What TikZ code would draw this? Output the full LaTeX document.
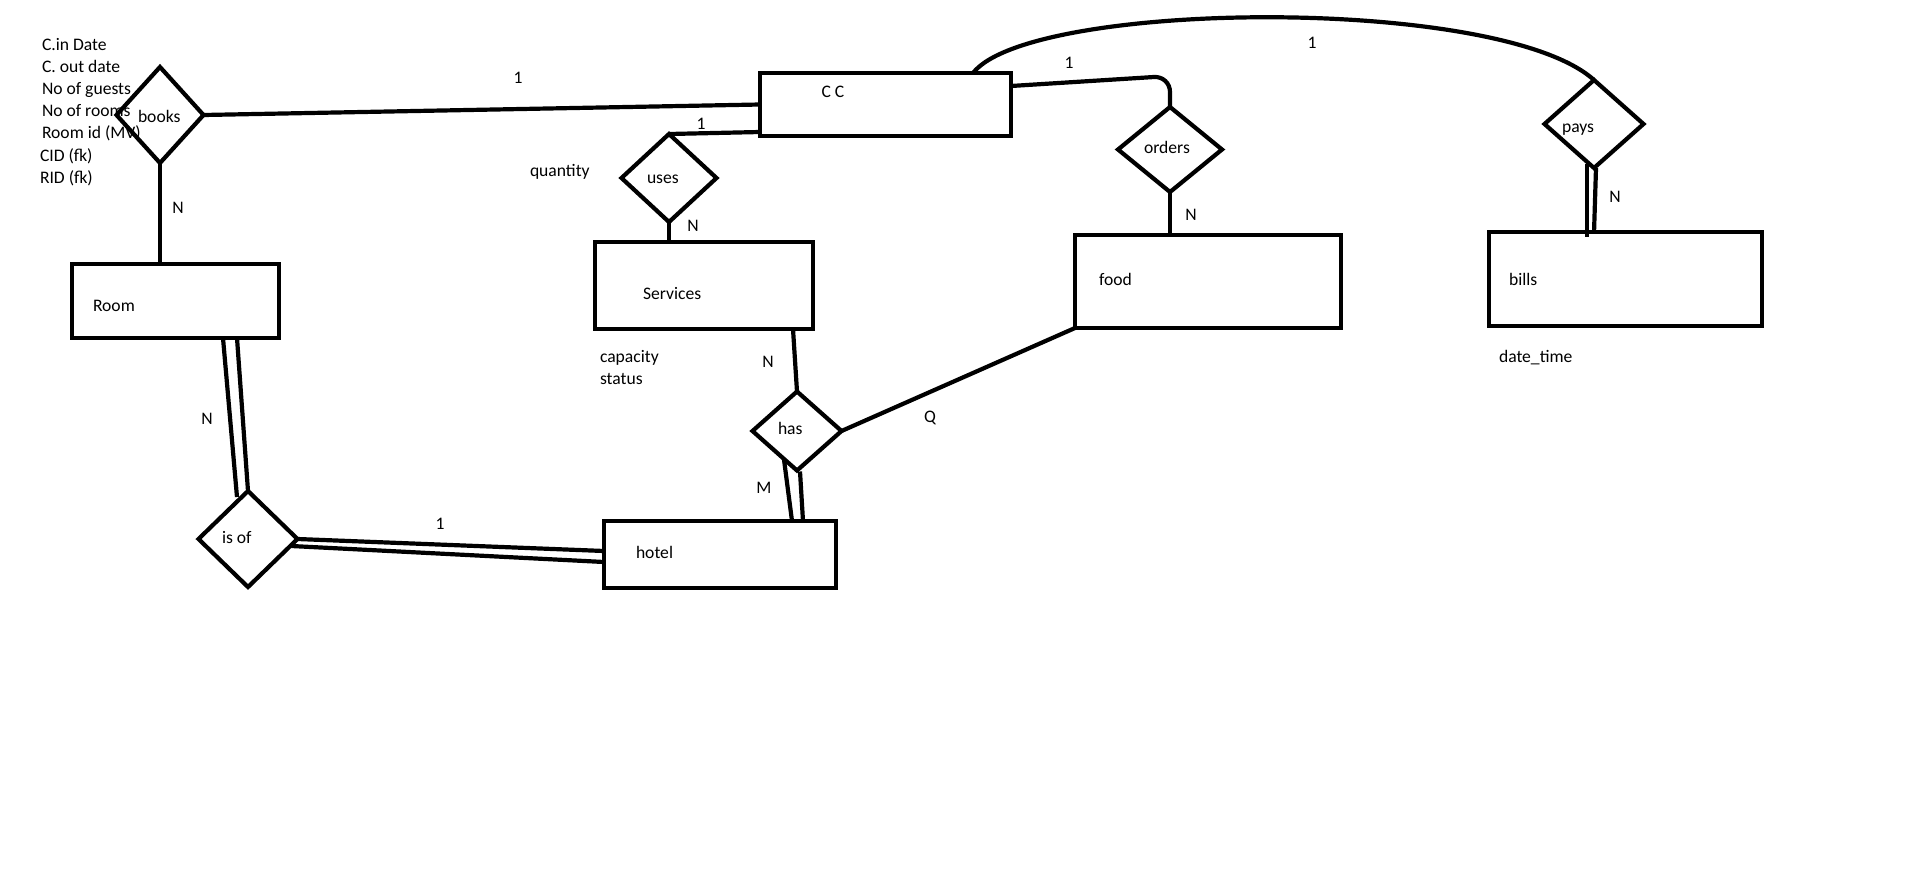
\documentclass[tikz,border=0pt]{standalone}
\usepackage{fontspec}
\setmainfont{Carlito}
\usetikzlibrary{shapes.geometric,calc}
\begin{document}
\begin{tikzpicture}[x=1pt,y=-1pt,
  every node/.style={font=\fontsize{17.6}{20}\selectfont, inner sep=0pt, outer sep=0pt},
  entity/.style={draw, rectangle, line width=4.2pt, line join=miter},
  rel/.style={draw, diamond, line width=4.2pt, line join=miter},
  link/.style={line width=4.2pt},
  lbl/.style={anchor=base west},
  card/.style={anchor=base},
]
\fill[white] (0,0) rectangle (1914,894);
\useasboundingbox (0,0) rectangle (1914,894);

% attributes of "books" (set under the diamond outline)
\node[lbl] (a1) at (42,50.5) {C.in Date};
\node[lbl] (a2) at (42,72.5) {C. out date};
\node[lbl] (a3) at (42,94.5) {No of guests};
\node[lbl] (a4) at (42,116.5) {No of rooms};
\node[lbl] (a5) at (42,138.5) {Room id (MV)};
\node[lbl] (a6) at (40,161) {CID (fk)};
\node[lbl] (a7) at (40,183) {RID (fk)};

% entities
\node[entity, minimum width=207pt, minimum height=74pt] (room) at (175.5,301) {};
\node[entity, minimum width=251pt, minimum height=63pt] (cc) at (885.5,104.5) {};
\node[entity, minimum width=218pt, minimum height=87pt] (services) at (704,285.5) {};
\node[entity, minimum width=266pt, minimum height=93pt] (food) at (1208,281.5) {};
\node[entity, minimum width=273pt, minimum height=94pt] (bills) at (1625.5,279) {};
\node[entity, minimum width=232pt, minimum height=67pt] (hotel) at (720,554.5) {};

% relationships
\node[rel, minimum width=87pt, minimum height=96pt] (books) at (160,115) {};
\node[rel, minimum width=95pt, minimum height=88pt] (uses) at (669,178) {};
\node[rel, minimum width=104pt, minimum height=85pt] (orders) at (1170,149.5) {};
\node[rel, minimum width=99pt, minimum height=88pt] (pays) at (1594,124) {};
\node[rel, minimum width=89pt, minimum height=79pt] (has) at (797,431) {};
\node[rel, minimum width=99pt, minimum height=96pt] (isof) at (248,539) {};

% names inside the shapes
\node[lbl] (tbooks) at (138,122) {books};
\node[lbl] (troom) at (93,311.5) {Room};
\node[card] (tcc) at (833,97.5) {C C};
\node[lbl] (tuses) at (647,183) {uses};
\node[lbl] (tservices) at (643,299.5) {Services};
\node[lbl] (thas) at (778,434.5) {has};
\node[lbl] (thotel) at (636,558.5) {hotel};
\node[lbl] (tfood) at (1099,285.5) {food};
\node[lbl] (torders) at (1144,153.5) {orders};
\node[lbl] (tpays) at (1562,132) {pays};
\node[lbl] (tbills) at (1509,285.5) {bills};
\node[lbl] (tisof) at (222,543) {is of};

% other attributes
\node[lbl] (qty) at (530,176) {quantity};
\node[lbl] (cap) at (600,362) {capacity};
\node[lbl] (sts) at (600,384.5) {status};
\node[lbl] (dt) at (1499,362) {date\_time};

% connectors
\draw[link] (books.east) -- (cc.west);
\draw[link] (books.south) -- (books.south |- room.north);
\draw[link] ($(cc.south west)+(0,-4)$) -- (uses.north);
\draw[link] (uses.south) -- (uses.south |- services.north);
\draw[link] ($(services.south east)+(-20,0)$) -- (has.north);
\draw[link] (has.east) -- (food.south west);
\draw[link] ($(has.south)+(-13,-11)$) -- ($(hotel.north west)+(188,0)$);
\draw[link] ($(has.south)+(3,1)$) -- ($(hotel.north west)+(199,0)$);
\draw[link, rounded corners=16pt] ($(cc.north east)+(0,13)$) -- ($(orders.north)+(0,-31)$) -- (orders.north);
\draw[link] (orders.south) -- (orders.south |- food.north);
\draw[link] ($(cc.north east)+(-38,0)$) .. controls (1030,0) and (1500,-5) .. (pays.north);
\draw[link] ($(pays.south)+(-7,-4)$) -- ($(bills.north west)+(98,5)$);
\draw[link] ($(pays.south)+(2,0)$) -- ($(bills.north west)+(105,1)$);
\draw[link] ($(room.south west)+(151,0)$) -- ($(isof.north)+(-11,6)$);
\draw[link] ($(room.south west)+(165,0)$) -- (isof.north);
\draw[link] (isof.east) -- ($(hotel.west)+(0,-3.5)$);
\draw[link] ($(isof.east)+(-6,7)$) -- ($(hotel.west)+(0,7.5)$);

% cardinalities
\node[card] (c1) at (518,83.5) {1};
\node[card] (c2) at (178,213.5) {N};
\node[card] (c3) at (701,129.5) {1};
\node[card] (c4) at (693,231.5) {N};
\node[card] (c5) at (768,367.5) {N};
\node[card] (c6) at (764,493.5) {M};
\node[card] (c7) at (930,422.5) {Q};
\node[card] (c8) at (1191,220.5) {N};
\node[card] (c9) at (1069,68.5) {1};
\node[card] (c10) at (1312,48.5) {1};
\node[card] (c11) at (1615,202.5) {N};
\node[card] (c12) at (207,424.5) {N};
\node[card] (c13) at (440,529.5) {1};
\end{tikzpicture}
\end{document}
